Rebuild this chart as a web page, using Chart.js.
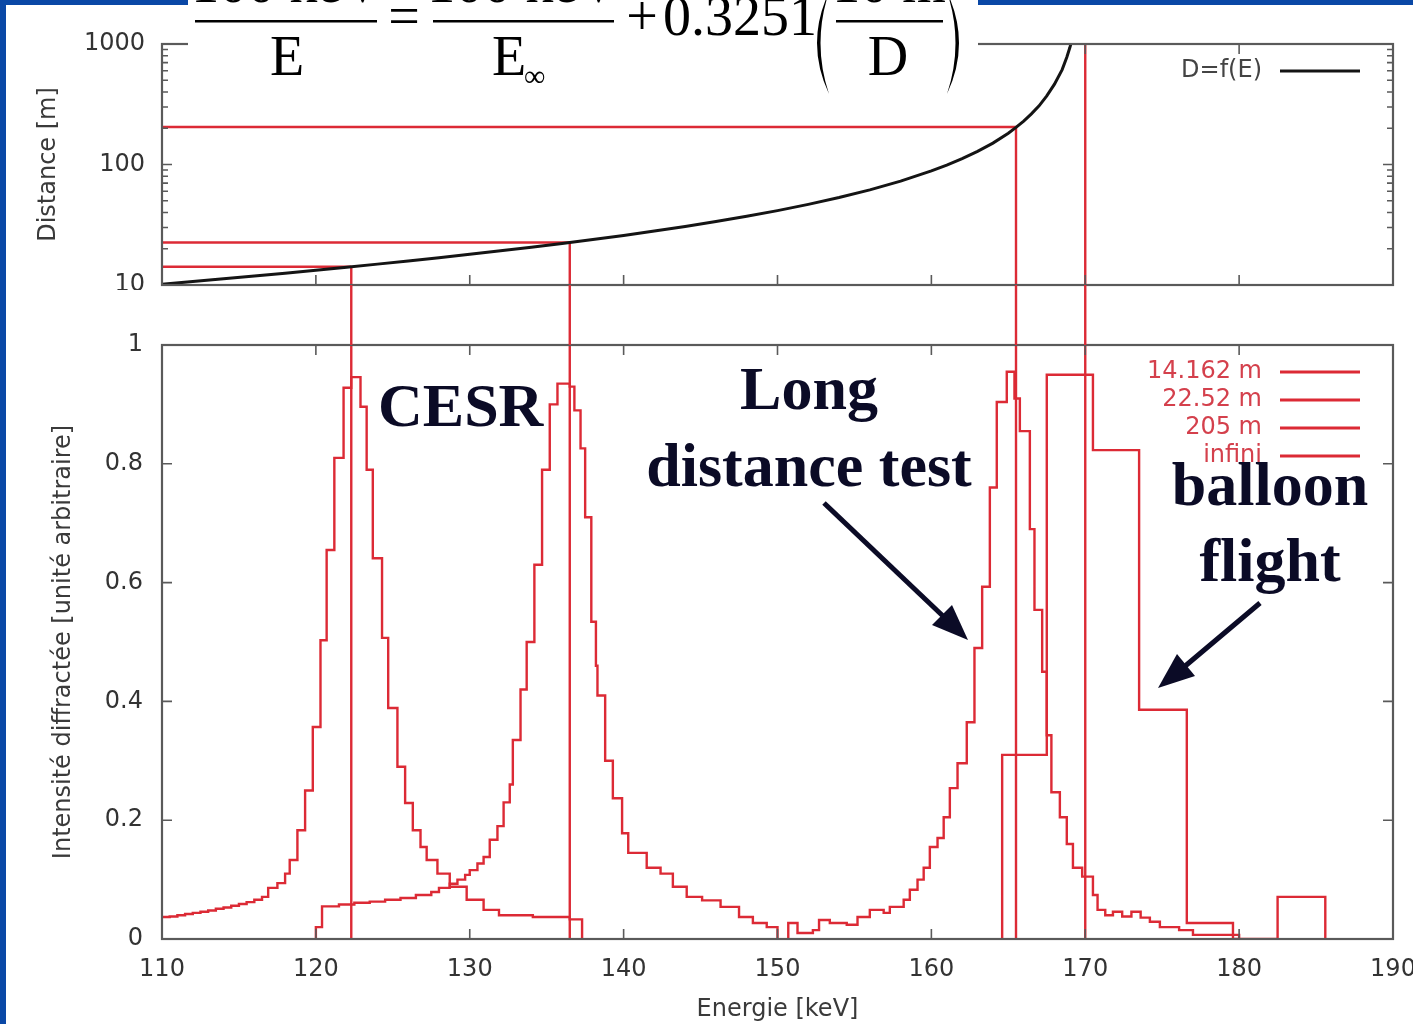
<!DOCTYPE html>
<html>
<head>
<meta charset="utf-8">
<script src="https://cdn.jsdelivr.net/npm/chart.js@4.4.1/dist/chart.umd.min.js"></script>
<style>
  html, body { margin: 0; padding: 0; background: #fff; }
  body { width: 1413px; height: 1024px; position: relative; overflow: hidden; }
  canvas { position: absolute; left: 0; }
  #topChart { top: 0; }
  #bottomChart { top: 285px; }
  .band { position: absolute; background: #0a48a6; z-index: 5; }
  #overlay { position: absolute; left: 0; top: 0; z-index: 6; }
</style>
</head>
<body>
<canvas id="topChart" width="1413" height="290"></canvas>
<canvas id="bottomChart" width="1413" height="739"></canvas>
<div class="band" style="left:0;top:0;width:6px;height:1024px"></div>
<div class="band" style="left:0;top:0;width:1413px;height:5px"></div>

<svg id="overlay" width="1413" height="1024" xmlns="http://www.w3.org/2000/svg">
  <!-- formula, cut by the top of the slide -->
  <g font-family="'Liberation Serif', serif" fill="#000">
    <rect x="188" y="0" width="790" height="96" fill="#fff"/>
    <text x="287" y="2" font-size="56" text-anchor="middle">100 keV</text>
    <rect x="195" y="20" width="182" height="2.5"/>
    <text x="287" y="75" font-size="56" text-anchor="middle">E</text>
    <text x="404" y="35" font-size="56" text-anchor="middle">=</text>
    <text x="523" y="2" font-size="56" text-anchor="middle">100 keV</text>
    <rect x="433" y="20" width="181" height="2.5"/>
    <text x="492" y="75" font-size="56">E</text>
    <text x="524" y="86" font-size="30">∞</text>
    <text x="642" y="35" font-size="56" text-anchor="middle">+</text>
    <text x="663" y="35" font-size="56">0.3251</text>
    <path d="M829,-8 Q805,43 829,94 Q812,43 829,-8 Z"/>
    <text x="889" y="2" font-size="56" text-anchor="middle">10 m</text>
    <rect x="836" y="20" width="107" height="2.5"/>
    <text x="888" y="75" font-size="56" text-anchor="middle">D</text>
    <path d="M947,-8 Q971,43 947,94 Q964,43 947,-8 Z"/>
  </g>
  <!-- annotations -->
  <g font-family="'Liberation Serif', serif" font-weight="bold" font-size="62" fill="#0b0b26">
    <text x="378" y="426">CESR</text>
    <text x="809" y="409" text-anchor="middle">Long</text>
    <text x="809" y="486" text-anchor="middle">distance test</text>
    <text x="1270" y="505" text-anchor="middle">balloon</text>
    <text x="1270" y="581" text-anchor="middle">flight</text>
  </g>
  <g stroke="#0b0b26" stroke-width="5" fill="#0b0b26">
    <line x1="824" y1="503" x2="944" y2="617"/>
    <polygon stroke="none" points="968,640 932,625 952,605"/>
    <line x1="1260" y1="603" x2="1184" y2="667"/>
    <polygon stroke="none" points="1158,688 1177,654 1195,676"/>
  </g>
</svg>

<script>
// ---- data ----
const energyTicks = [110, 120, 130, 140, 150, 160, 170, 180, 190];
const distTicks = [10, 100, 1000];
const distMinorTicks = [20, 30, 40, 50, 60, 70, 80, 90, 200, 300, 400, 500, 600, 700, 800, 900];
const intensityTicks = [0, 0.2, 0.4, 0.6, 0.8, 1];

// D = f(E) curve (keV, m)
const curveE = [110, 112, 114, 116, 118, 120, 122, 124, 126, 128, 130, 132, 134, 136, 138, 140,
  142, 144, 146, 148, 150, 152, 154, 156, 158, 160, 161, 162, 163, 164, 165, 165.5, 166, 166.5,
  167, 167.5, 168, 168.5, 168.8, 169, 169.1];
const curveD = [10.13, 10.67, 11.25, 11.87, 12.54, 13.26, 14.04, 14.9, 15.83, 16.84, 17.96, 19.2,
  20.57, 22.11, 23.83, 25.78, 28.03, 30.61, 33.62, 37.18, 41.42, 46.68, 53.2, 61.6, 72.7, 88.4,
  98.9, 111.7, 128.7, 150.5, 181.6, 203.3, 229, 263, 307, 371, 464, 613, 777, 934, 1038];

// distances tested and the energy where the curve reaches them
const markerLabels = ['14.162 m', '22.52 m', '205 m', 'infini'];
const markerE = [122.3, 136.5, 165.5, 170.0];
const markerD = [14.162, 22.52, 205, 1000];

// diffracted intensity histograms: [bin start (keV), intensity]
const hist14 = [[110, 0.037], [110.5, 0.038], [111, 0.040], [111.5, 0.042], [112, 0.044], [112.5, 0.046],
  [113, 0.048], [113.5, 0.051], [114, 0.053], [114.5, 0.056], [115, 0.059], [115.5, 0.062], [116, 0.066],
  [116.5, 0.071], [116.9, 0.086], [117.5, 0.094], [118.0, 0.110], [118.3, 0.133], [118.8, 0.183],
  [119.3, 0.250], [119.8, 0.357], [120.3, 0.503], [120.7, 0.655], [121.2, 0.810], [121.8, 0.928],
  [122.3, 0.946], [122.9, 0.896], [123.3, 0.790], [123.7, 0.641], [124.3, 0.507], [124.7, 0.389],
  [125.3, 0.290], [125.8, 0.229], [126.3, 0.183], [126.8, 0.155], [127.2, 0.133], [127.9, 0.110],
  [128.7, 0.088], [129.8, 0.066], [130.9, 0.049], [131.9, 0.040], [134.1, 0.037], [136.5, 0.033],
  [137.3, 0]];
const hist22 = [[120.0, 0], [120.0, 0.020], [120.4, 0.055], [121.5, 0.058], [122.5, 0.061], [123.5, 0.063],
  [124.5, 0.066], [125.5, 0.069], [126.5, 0.074], [127.5, 0.079], [128.0, 0.086], [128.7, 0.093],
  [129.2, 0.100], [129.7, 0.108], [130.0, 0.116], [130.5, 0.127], [130.9, 0.138], [131.3, 0.167],
  [131.8, 0.190], [132.2, 0.230], [132.6, 0.260], [132.8, 0.335], [133.3, 0.420], [133.7, 0.500],
  [134.2, 0.630], [134.7, 0.790], [135.2, 0.900], [135.7, 0.935], [136.5, 0.930], [136.8, 0.890],
  [137.2, 0.826], [137.5, 0.710], [137.9, 0.534], [138.2, 0.460], [138.3, 0.410], [138.8, 0.300],
  [139.3, 0.237], [139.9, 0.178], [140.3, 0.145], [141.5, 0.120], [142.4, 0.110], [143.2, 0.088],
  [144.1, 0.071], [145.1, 0.065], [146.3, 0.054], [147.5, 0.037], [148.4, 0.027], [149.3, 0.020],
  [150.0, 0]];
const hist205 = [[150.7, 0], [150.7, 0.027], [151.3, 0.010], [152.3, 0.015], [152.7, 0.032], [153.4, 0.027],
  [154.5, 0.024], [155.2, 0.037], [156.0, 0.049], [156.9, 0.044], [157.3, 0.054], [158.2, 0.066],
  [158.6, 0.083], [159.1, 0.100], [159.5, 0.120], [159.9, 0.155], [160.4, 0.170], [160.8, 0.205],
  [161.2, 0.254], [161.7, 0.296], [162.3, 0.365], [162.8, 0.490], [163.3, 0.593], [163.8, 0.760],
  [164.25, 0.904], [164.9, 0.955], [165.4, 0.910], [165.75, 0.855], [166.4, 0.690], [166.7, 0.554],
  [167.2, 0.450], [167.5, 0.343], [167.8, 0.247], [168.35, 0.205], [168.8, 0.160], [169.2, 0.120],
  [169.8, 0.105], [170.5, 0.074], [170.8, 0.049], [171.3, 0.040], [171.8, 0.046], [172.4, 0.038],
  [173.0, 0.046], [173.6, 0.036], [174.2, 0.029], [174.85, 0.020], [176.1, 0.015], [177.0, 0.007],
  [180.0, 0]];
const histInf = [[164.6, 0], [164.6, 0.310], [167.5, 0.950], [170.5, 0.823], [173.5, 0.386],
  [176.6, 0.027], [179.6, 0], [182.5, 0.071], [185.6, 0]];

// ---- styling ----
const RED = '#dc2a35';
const INK = '#333';
Chart.defaults.font.family = '"DejaVu Sans", sans-serif';
Chart.defaults.font.size = 24;
Chart.defaults.color = INK;

const pts = arr => arr.map(([x, y]) => ({ x, y }));

// pin an axis box to a fixed size, no extra label overhang padding
const pinBox = (w, h) => s => {
  if (w !== null) s.width = w;
  if (h !== null) s.height = h;
  s.paddingLeft = 0; s.paddingRight = 0; s.paddingTop = 0; s.paddingBottom = 0;
};

// gnuplot style frame with inward ticks on all four sides
const frameTicks = {
  id: 'frameTicks',
  afterDatasetsDraw(chart, args, opts) {
    const { ctx, chartArea: a, scales: { x, y } } = chart;
    ctx.save();
    ctx.strokeStyle = '#5a5a5a';
    ctx.lineWidth = 1.6;
    ctx.beginPath();
    opts.xTicks.forEach(v => {
      const px = x.getPixelForValue(v);
      ctx.moveTo(px, a.bottom); ctx.lineTo(px, a.bottom - 10);
      ctx.moveTo(px, a.top); ctx.lineTo(px, a.top + 10);
    });
    const yTick = (v, len) => {
      const py = y.getPixelForValue(v);
      ctx.moveTo(a.left, py); ctx.lineTo(a.left + len, py);
      ctx.moveTo(a.right, py); ctx.lineTo(a.right - len, py);
    };
    opts.yTicks.forEach(v => yTick(v, 10));
    (opts.yMinor || []).forEach(v => yTick(v, 6));
    ctx.stroke();
    ctx.lineWidth = 2.2;
    ctx.strokeRect(a.left, a.top, a.right - a.left, a.bottom - a.top);
    ctx.restore();
  }
};

// key inside the plot, top right
const keyBox = {
  id: 'keyBox',
  afterDatasetsDraw(chart, args, opts) {
    const { ctx, chartArea: a } = chart;
    ctx.save();
    ctx.font = '24px "DejaVu Sans"';
    ctx.textAlign = 'right';
    ctx.textBaseline = 'middle';
    let row = 0;
    chart.data.datasets.forEach(ds => {
      if (!ds.inKey) return;
      const yy = a.top + 27 + row * 28;
      ctx.fillStyle = opts.textColor;
      ctx.fillText(ds.label, a.right - 131, yy);
      ctx.strokeStyle = ds.borderColor;
      ctx.lineWidth = 3;
      ctx.beginPath();
      ctx.moveTo(a.right - 113, yy);
      ctx.lineTo(a.right - 33, yy);
      ctx.stroke();
      row++;
    });
    ctx.restore();
  }
};

// vertical markers continue through the gap between both panels
const gapLinks = {
  id: 'gapLinks',
  afterDatasetsDraw(chart, args, opts) {
    const { ctx, chartArea: a, scales: { x } } = chart;
    ctx.save();
    ctx.strokeStyle = RED;
    ctx.lineWidth = 2.4;
    ctx.beginPath();
    opts.energies.forEach(e => {
      const px = x.getPixelForValue(e);
      ctx.moveTo(px, 0); ctx.lineTo(px, a.top);
    });
    ctx.stroke();
    ctx.restore();
  }
};

// ---- top panel: distance vs energy ----
const topSets = [{
  label: 'D=f(E)', inKey: true,
  data: curveE.map((e, i) => ({ x: e, y: curveD[i] })),
  borderColor: '#141414', borderWidth: 3
}];
markerE.forEach((e, i) => {
  if (i < 3) {
    topSets.push({ data: [{ x: energyTicks[0], y: markerD[i] }, { x: e, y: markerD[i] }], borderColor: RED, borderWidth: 2.4 });
  }
  topSets.push({ data: [{ x: e, y: markerD[i] }, { x: e, y: distTicks[0] }], borderColor: RED, borderWidth: 2.4 });
});

new Chart(document.getElementById('topChart'), {
  type: 'line',
  data: { datasets: topSets },
  options: {
    responsive: false, animation: false, devicePixelRatio: 1,
    layout: { padding: { top: 44, right: 20, bottom: 5, left: 0 } },
    elements: { point: { radius: 0 }, line: { tension: 0 } },
    plugins: {
      legend: { display: false }, tooltip: { enabled: false },
      frameTicks: { xTicks: energyTicks, yTicks: distTicks, yMinor: distMinorTicks },
      keyBox: { textColor: '#444' }
    },
    scales: {
      x: {
        type: 'linear', min: energyTicks[0], max: energyTicks[energyTicks.length - 1],
        afterBuildTicks: s => { s.ticks = energyTicks.map(v => ({ value: v })); },
        ticks: { display: false }, grid: { display: false }, border: { display: false },
        afterFit: pinBox(null, 0)
      },
      y: {
        type: 'logarithmic', min: distTicks[0], max: distTicks[distTicks.length - 1],
        afterBuildTicks: s => { s.ticks = distTicks.map(v => ({ value: v })); },
        ticks: { padding: 9, callback: v => String(v) },
        grid: { display: false }, border: { display: false },
        title: { display: true, text: 'Distance [m]', color: '#3a3a3a', padding: { top: 34, bottom: 0 } },
        afterFit: pinBox(162, null)
      }
    }
  },
  plugins: [frameTicks, keyBox]
});

// ---- bottom panel: diffracted intensity ----
// each bin value holds from its start until the next bin start
const bottomSets = [hist14, hist22, hist205, histInf].map((h, i) => ({
  label: markerLabels[i], inKey: true,
  data: pts(h), stepped: 'before',
  borderColor: RED, borderWidth: 2.4
}));
markerE.forEach(e => {
  bottomSets.push({
    data: [{ x: e, y: intensityTicks[0] }, { x: e, y: intensityTicks[intensityTicks.length - 1] }],
    borderColor: RED, borderWidth: 2.4
  });
});

new Chart(document.getElementById('bottomChart'), {
  type: 'line',
  data: { datasets: bottomSets },
  options: {
    responsive: false, animation: false, devicePixelRatio: 1,
    layout: { padding: { top: 60, right: 20, bottom: 0, left: 0 } },
    elements: { point: { radius: 0 }, line: { tension: 0 } },
    plugins: {
      legend: { display: false }, tooltip: { enabled: false },
      frameTicks: { xTicks: energyTicks, yTicks: intensityTicks },
      keyBox: { textColor: '#d4404c' },
      gapLinks: { energies: markerE }
    },
    scales: {
      x: {
        type: 'linear', min: energyTicks[0], max: energyTicks[energyTicks.length - 1],
        afterBuildTicks: s => { s.ticks = energyTicks.map(v => ({ value: v })); },
        ticks: { padding: 8, maxRotation: 0, autoSkip: false, callback: v => String(v) },
        grid: { display: false }, border: { display: false },
        title: { display: true, text: 'Energie [keV]', color: '#3a3a3a', padding: { top: 0, bottom: 0 } },
        afterFit: pinBox(null, 85)
      },
      y: {
        type: 'linear', min: intensityTicks[0], max: intensityTicks[intensityTicks.length - 1],
        afterBuildTicks: s => { s.ticks = intensityTicks.map(v => ({ value: v })); },
        ticks: { padding: 11, callback: v => String(v) },
        grid: { display: false }, border: { display: false },
        title: { display: true, text: 'Intensité diffractée [unité arbitraire]', color: '#3a3a3a', padding: { top: 49, bottom: 0 } },
        afterFit: pinBox(162, null)
      }
    }
  },
  plugins: [frameTicks, keyBox, gapLinks]
});
</script>
</body>
</html>
